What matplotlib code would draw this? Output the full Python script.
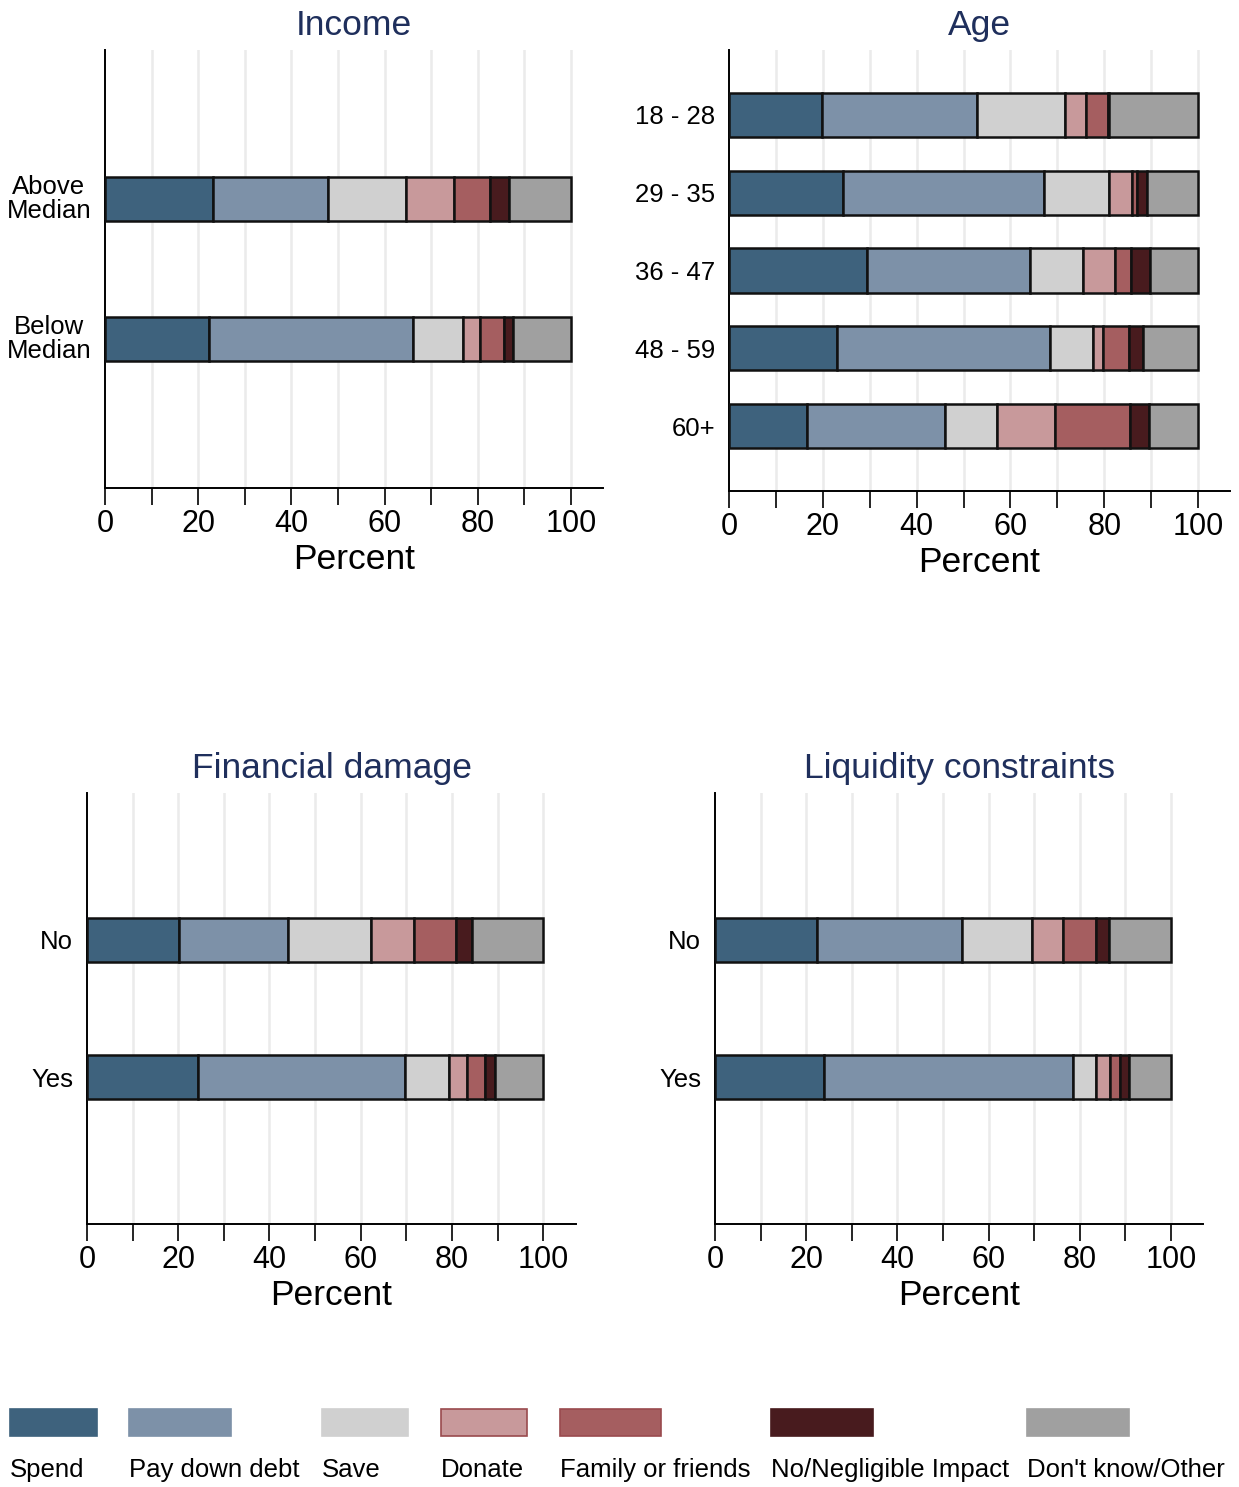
import matplotlib
matplotlib.use("Agg")
import matplotlib.pyplot as plt
from matplotlib.patches import Rectangle
import numpy as np

plt.rcParams['font.family'] = ['Liberation Sans', 'DejaVu Sans']

categories_legend = ["Spend", "Pay down debt", "Save", "Donate", "Family or friends",
                     "No/Negligible Impact", "Don't know/Other"]
colors = ["#3e627d", "#7d91a8", "#d0d0d0", "#c8999b", "#a55e60", "#481b1e", "#a0a0a0"]
legend_edges = ["#3e627d", "#7d91a8", "#d0d0d0", "#9a4a4e", "#9a4a4e", "#481b1e", "#a0a0a0"]

income_labels = ["Above\nMedian", "Below\nMedian"]
income_values = [
    [23.1, 24.8, 16.8, 10.2, 7.7, 4.2, 13.2],
    [22.4, 43.8, 10.7, 3.7, 5.1, 1.8, 12.5],
]

age_labels = ["18 - 28", "29 - 35", "36 - 47", "48 - 59", "60+"]
age_values = [
    [19.9, 32.9, 18.9, 4.5, 4.5, 0.4, 18.9],
    [24.4, 42.8, 13.7, 5.0, 1.0, 2.2, 10.9],
    [29.4, 34.8, 11.3, 6.8, 3.4, 4.1, 10.2],
    [23.1, 45.3, 9.3, 2.0, 5.6, 3.0, 11.7],
    [16.6, 29.5, 11.0, 12.5, 15.8, 4.2, 10.4],
]

fin_labels = ["No", "Yes"]
fin_values = [
    [20.2, 23.9, 18.1, 9.4, 9.2, 3.6, 15.6],
    [24.4, 45.3, 9.7, 4.0, 3.9, 2.2, 10.5],
]

liq_labels = ["No", "Yes"]
liq_values = [
    [22.3, 31.9, 15.2, 7.0, 7.1, 2.9, 13.6],
    [23.8, 54.6, 5.1, 3.1, 2.2, 2.0, 9.2],
]

W, H = 1239, 1487
fig = plt.figure(figsize=(W / 100, H / 100), dpi=100)

title_color = "#1f2f5c"


def px_axes(l, r, t, b):
    return fig.add_axes([l / W, 1 - b / H, (r - l) / W, (b - t) / H])


def panel(ax, title, labels, values, xmax, bar_h, margin):
    vals = np.array(values)
    n = len(labels)
    pos = np.arange(n)
    for i in range(vals.shape[1]):
        left = vals[:, :i].sum(axis=1)
        ax.barh(pos, vals[:, i], left=left, height=bar_h, color=colors[i],
                edgecolor="#111111", linewidth=1.8, zorder=3)
    ax.set_ylim(n - 1 + margin, -margin)
    ax.set_xlim(0, xmax)
    ax.set_yticks(pos)
    ax.set_yticklabels(labels, fontsize=18.5, linespacing=1.0, multialignment='center')
    ax.tick_params(axis='y', length=0, pad=10)
    ax.set_xticks(np.arange(0, 101, 20))
    ax.set_xticks(np.arange(0, 101, 10), minor=True)
    ax.tick_params(axis='x', which='both', length=12, width=1.2, direction='out',
                   labelsize=22, pad=3)
    for g in np.arange(10, 101, 10):
        ax.axvline(g, color="#ebebeb", lw=1.8, zorder=1)
    for s in ['top', 'right']:
        ax.spines[s].set_visible(False)
    ax.spines['left'].set_linewidth(1.4)
    ax.spines['bottom'].set_linewidth(1.4)
    ax.set_xlabel("Percent", fontsize=25.5, labelpad=3)
    ax.set_title(title, fontsize=25.5, color=title_color, pad=11)


ax1 = px_axes(105, 603, 50, 488)
panel(ax1, "Income", income_labels, income_values, 106.9, 0.314, 1.064)
for t in ax1.get_yticklabels():
    t.set_y(t.get_position()[1])
    t.set_verticalalignment('center')

ax2 = px_axes(729, 1230, 50, 491)
panel(ax2, "Age", age_labels, age_values, 106.8, 0.566, 0.836)

ax3 = px_axes(87, 576, 793, 1224)
panel(ax3, "Financial damage", fin_labels, fin_values, 107.2, 0.319, 1.062)

ax4 = px_axes(715, 1203, 793, 1224)
panel(ax4, "Liquidity constraints", liq_labels, liq_values, 107.0, 0.319, 1.062)

# Legend
patch_x = [(10, 97), (129, 231), (322, 408), (441, 527), (560, 661), (771, 873), (1027, 1129)]
for (x0, x1), c, ec, lab in zip(patch_x, colors, legend_edges, categories_legend):
    fig.patches.append(Rectangle((x0 / W, 1 - 1436 / H), (x1 - x0) / W, 27 / H,
                                 transform=fig.transFigure, facecolor=c,
                                 edgecolor=ec, linewidth=1.2))
    fig.text(x0 / W, 1 - 1470 / H, lab, fontsize=18.5, ha='left', va='center')

fig.savefig("out.png", dpi=100)
